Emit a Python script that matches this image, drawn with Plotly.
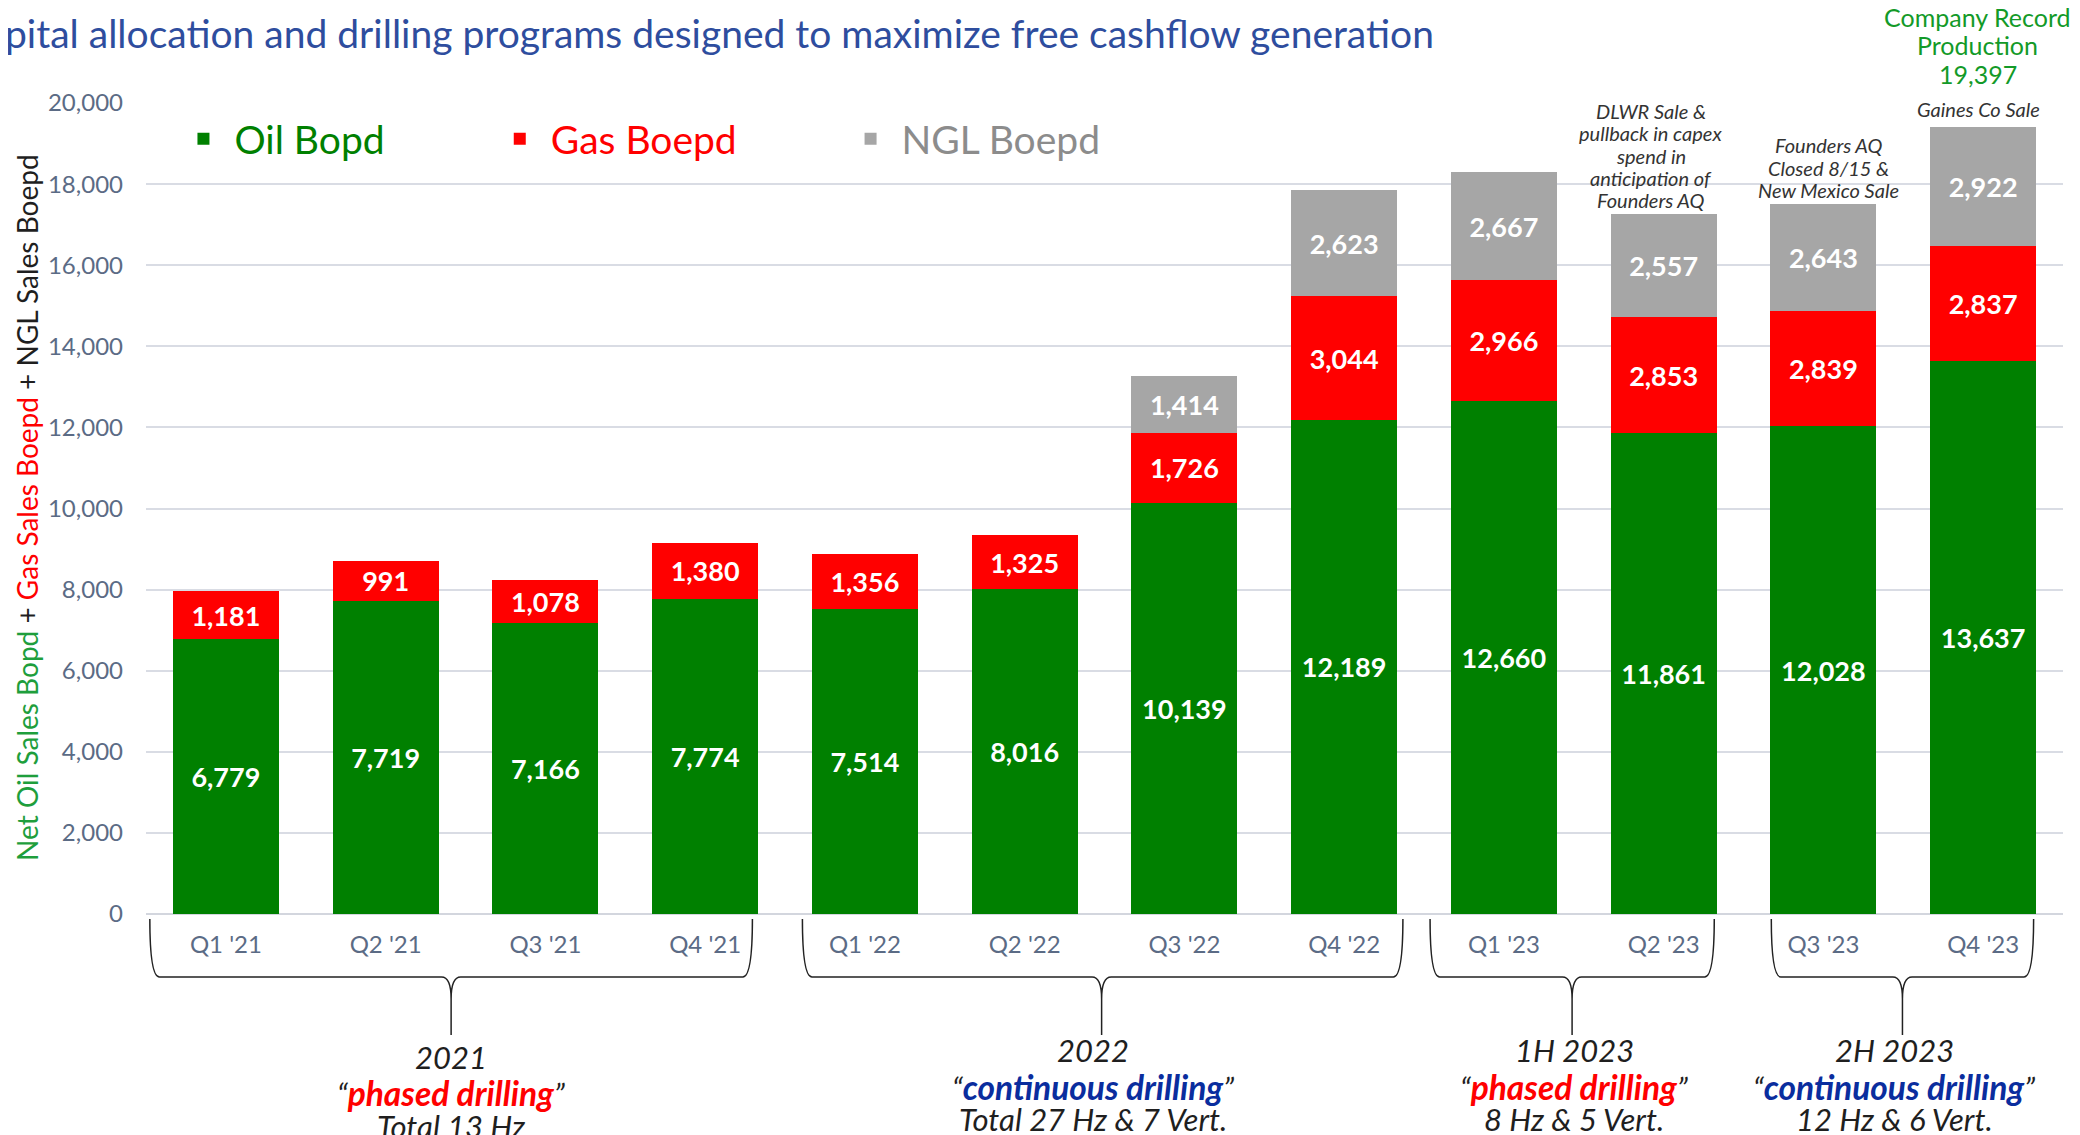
import plotly.graph_objects as go

categories = ["Q1 '21", "Q2 '21", "Q3 '21", "Q4 '21", "Q1 '22", "Q2 '22",
              "Q3 '22", "Q4 '22", "Q1 '23", "Q2 '23", "Q3 '23", "Q4 '23"]
oil_bopd = [6779, 7719, 7166, 7774, 7514, 8016, 10139, 12189, 12660, 11861, 12028, 13637]
gas_boepd = [1181, 991, 1078, 1380, 1356, 1325, 1726, 3044, 2966, 2853, 2839, 2837]
ngl_boepd = [None, None, None, None, None, None, 1414, 2623, 2667, 2557, 2643, 2922]
y_ticks = [0, 2000, 4000, 6000, 8000, 10000, 12000, 14000, 16000, 18000, 20000]

group_years = ["2021", "2022", "1H 2023", "2H 2023"]
group_modes = ["phased drilling", "continuous drilling", "phased drilling", "continuous drilling"]
group_details = ["Total 13 Hz", "Total 27 Hz &amp; 7 Vert.", "8 Hz &amp; 5 Vert.", "12 Hz &amp; 6 Vert."]
record_lines = ["Company Record", "Production", "19,397"]
note_dlwr = ["DLWR Sale &amp;", "pullback in capex", "spend in", "anticipation of", "Founders AQ"]
note_founders = ["Founders AQ", "Closed 8/15 &amp;", "New Mexico Sale"]
note_gaines = ["Gaines Co Sale"]

# layout helpers (positions in category units / paper units)
brace_spans = [(-0.476, 3.296, 1.41), (3.609, 7.368, 5.482), (7.538, 9.317, 8.427), (9.674, 11.316, 10.495)]
group_text_x = [1.41, 5.43, 8.44, 10.445]
group_text_y = [(-0.1763, -0.2207, -0.2614), (-0.1677, -0.2133, -0.2528),
                (-0.1677, -0.2133, -0.2528), (-0.1677, -0.2133, -0.2528)]

GREEN = "#008000"
RED = "#FF0000"
GRAY = "#A6A6A6"
BLUE = "#0A2D9E"
DARK = "#1F1F1F"
TICK = "#5B6B85"
FONT = "Lato"

PLOT_BOTTOM_PX, PLOT_H = 914, 811


def py(px):
    return (PLOT_BOTTOM_PX - px) / PLOT_H


fig = go.Figure()
label_font = dict(family=FONT, size=27, color="white", weight="bold")
for name, vals, col, leg in [("Oil Bopd", oil_bopd, GREEN, "legend"),
                             ("Gas Boepd", gas_boepd, RED, "legend2"),
                             ("NGL Boepd", ngl_boepd, GRAY, "legend3")]:
    fig.add_trace(go.Bar(
        x=categories, y=vals, name=name, marker=dict(color=col, line=dict(width=0)),
        texttemplate="%{y:,.0f}", textposition="inside", insidetextanchor="middle",
        textangle=0, constraintext="none", textfont=label_font, legend=leg,
        showlegend=True, hoverinfo="skip"))

leg_common = dict(orientation="h", xanchor="left", y=py(139), yanchor="middle",
                  bgcolor="rgba(0,0,0,0)", itemwidth=52)
fig.update_layout(
    width=2080, height=1135,
    margin=dict(l=138, r=25, t=95, b=229),
    barmode="stack", bargap=0.335,
    showlegend=True,
    paper_bgcolor="white", plot_bgcolor="white",
    font=dict(family=FONT, color=DARK),
    legend=dict(x=0.0138, font=dict(family=FONT, size=39, color=GREEN), **leg_common),
    legend2=dict(x=0.1788, font=dict(family=FONT, size=39, color=RED), **leg_common),
    legend3=dict(x=0.3618, font=dict(family=FONT, size=39, color="#8C8C8C"), **leg_common),
    xaxis=dict(type="category", range=[-0.5, 11.5], showgrid=False, showline=False,
               ticks="", tickfont=dict(family=FONT, size=24, color=TICK), ticklabelstandoff=14),
    yaxis=dict(range=[0, 20000], tickvals=y_ticks, tickformat=",", showgrid=True,
               gridcolor="#D9DCE4", gridwidth=2, zeroline=True, zerolinecolor="#D3D6DE",
               zerolinewidth=2, ticks="", tickfont=dict(family=FONT, size=24, color=TICK),
               ticklabelstandoff=22),
)

ann = []
ann.append(dict(text="pital allocation and drilling programs designed to maximize free cashflow generation",
                xref="paper", yref="paper", x=-0.0746, y=py(33), xanchor="left", yanchor="middle",
                showarrow=False, font=dict(family=FONT, size=39, color="#2E4D9E")))
ann.append(dict(text=("<span style='color:#1E9E3C'>Net Oil Sales Bopd</span> + "
                      "<span style='color:#FF0000'>Gas Sales Boepd</span> + NGL Sales Boepd"),
                xref="paper", yref="paper", x=-0.0621, y=py(507), xanchor="center", yanchor="middle",
                textangle=-90, showarrow=False, font=dict(family=FONT, size=28, color=DARK)))


def add_lines(lines, x, first_px, step, size, color, italic):
    for k, line in enumerate(lines):
        t = f"<i>{line}</i>" if italic else line
        ann.append(dict(text=t, xref="x", yref="paper", x=x, y=py(first_px + k * step),
                        xanchor="center", yanchor="middle", showarrow=False,
                        font=dict(family=FONT, size=size, color=color)))


add_lines(record_lines, 10.965, 17, 28.5, 25, "#139A28", False)
add_lines(note_gaines, 10.97, 109, 22.3, 20, "#333333", True)
add_lines(note_dlwr, 8.92, 111, 22.3, 20, "#333333", True)
add_lines(note_founders, 10.03, 145, 22.5, 20, "#333333", True)

for gx, gys, yr, mode, det in zip(group_text_x, group_text_y, group_years, group_modes, group_details):
    col = RED if mode.startswith("phased") else BLUE
    texts = [f"<i>{yr}</i>",
             f"<i>“<span style='color:{col};font-size:33.5px;font-weight:900'><b>{mode}</b></span>”</i>",
             f"<i>{det}</i>"]
    for t, gy in zip(texts, gys):
        ann.append(dict(text=t, xref="x", yref="paper", x=gx, y=gy, xanchor="center",
                        yanchor="middle", showarrow=False,
                        font=dict(family=FONT, size=31, color=DARK)))
fig.update_layout(annotations=ann)

top, hy, neck, tip = py(919), py(977), py(999), py(1035)
d = 0.06
shapes = []
for L, R, C in brace_spans:
    path = (f"M {L},{top} Q {L},{hy} {L + d},{hy} L {C - d},{hy} Q {C},{hy} {C},{neck} "
            f"L {C},{tip} L {C},{neck} Q {C},{hy} {C + d},{hy} L {R - d},{hy} Q {R},{hy} {R},{top}")
    shapes.append(dict(type="path", xref="x", yref="paper", path=path,
                       line=dict(color="#222222", width=1.5)))
fig.update_layout(shapes=shapes)

fig.write_html("out.html")
